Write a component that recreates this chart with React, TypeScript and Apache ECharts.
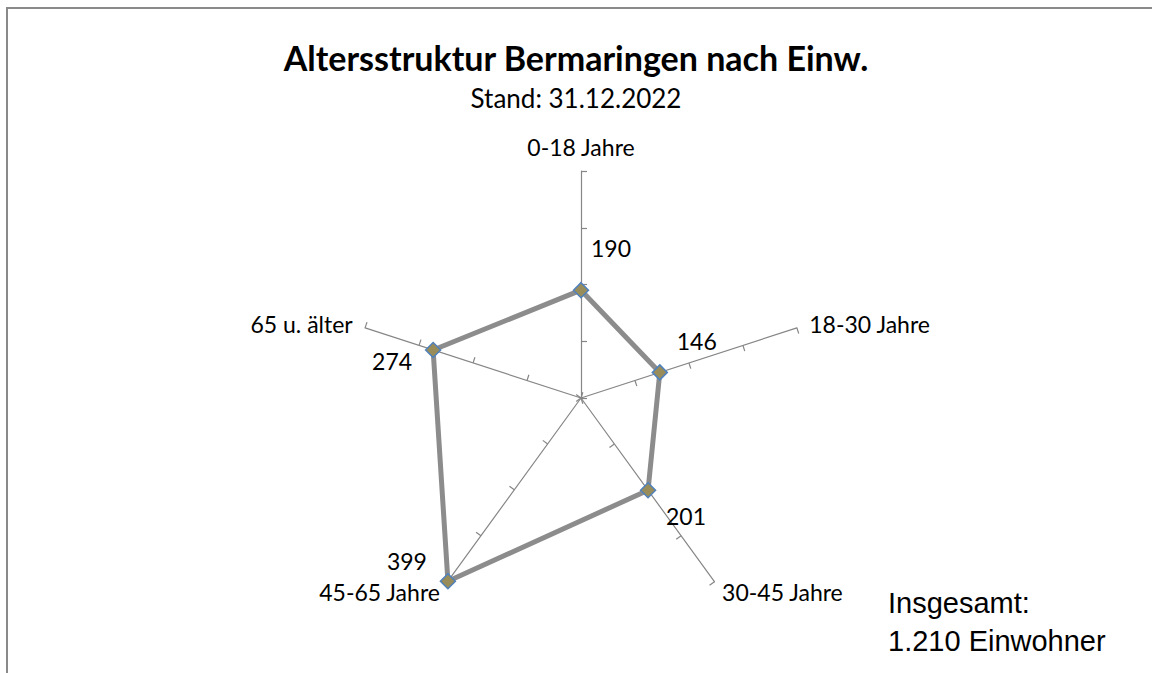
import { useEffect, useRef } from 'react';
import * as echarts from 'echarts';

const titleText = 'Altersstruktur Bermaringen nach Einw.';
const subtitleText = 'Stand: 31.12.2022';
const categories = ['0-18 Jahre', '18-30 Jahre', '30-45 Jahre', '45-65 Jahre', '65 u. älter'];
const values = [190, 146, 201, 399, 274];
const axisMax = 400;
const splitCount = 4;
const totalLines = ['Insgesamt:', '1.210 Einwohner'];

// radar draws indicators counter-clockwise from the top
const order = [0, 4, 3, 2, 1];
const labelOffsets: [number, number][] = [
  [30, -42],
  [37, -31],
  [38, 26],
  [-41, -20],
  [-41, 11],
];

export default function App() {
  const ref = useRef<HTMLDivElement>(null);
  useEffect(() => {
    const chart = echarts.init(ref.current!, null, { renderer: 'svg' });
    const font = 'Lato, "Open Sans", sans-serif';
    const indicator = order.map((i) => ({ name: categories[i], min: 0, max: axisMax }));
    const vals = order.map((i) => values[i]);

    const overlays = order.map((catIdx, pos) => ({
      type: 'radar',
      silent: true,
      z: 5,
      symbol: 'circle',
      symbolSize: 1,
      itemStyle: { color: 'rgba(0,0,0,0)', borderWidth: 0 },
      lineStyle: { opacity: 0, width: 0 },
      label: {
        show: true,
        position: 'inside',
        offset: labelOffsets[catIdx],
        color: '#000',
        fontSize: 23,
        fontFamily: font,
        formatter: (p: any) => (p.dimensionIndex === pos ? String(vals[pos]) : ''),
      },
      data: [{ value: vals }],
    }));

    chart.setOption({
      animation: false,
      backgroundColor: '#fff',
      title: {
        text: titleText,
        subtext: subtitleText,
        left: 'center',
        top: 35,
        itemGap: 11,
        textStyle: { fontSize: 34, fontWeight: 'bold', color: '#000', fontFamily: font },
        subtextStyle: { fontSize: 26, color: '#000', fontFamily: font },
      },
      radar: {
        center: [581, 398],
        radius: 227,
        startAngle: 90,
        splitNumber: splitCount,
        shape: 'polygon',
        indicator,
        nameGap: 13,
        axisName: { color: '#000', fontSize: 23, fontFamily: font },
        axisLine: { show: true, lineStyle: { color: '#868686', width: 1.2 } },
        axisTick: { show: true, length: -6, lineStyle: { color: '#868686', width: 1.2 } },
        axisLabel: { show: false },
        splitLine: { show: false },
        splitArea: { show: false },
      },
      graphic: [
        {
          type: 'rect',
          shape: { x: 7, y: 8, width: 1300, height: 800 },
          style: { fill: 'none', stroke: '#8a8a8a', lineWidth: 2 },
          silent: true,
        },
        {
          type: 'text',
          left: 888,
          top: 584,
          style: {
            text: totalLines.join('\n'),
            fontSize: 29,
            lineHeight: 38,
            fontFamily: '"Liberation Sans", Arial, sans-serif',
            fill: '#000',
          },
        },
      ],
      series: [
        {
          type: 'radar',
          z: 3,
          symbol: 'diamond',
          symbolSize: 15,
          itemStyle: { color: '#978c5a', borderColor: '#4f81bd', borderWidth: 1.5 },
          lineStyle: { color: '#8c8c8c', width: 5 },
          label: { show: false },
          data: [{ value: vals }],
        },
        ...overlays,
      ],
    });
    return () => chart.dispose();
  }, []);
  return <div ref={ref} style={{ position: 'fixed', left: 0, top: 0, width: 1152, height: 673 }} />;
}
